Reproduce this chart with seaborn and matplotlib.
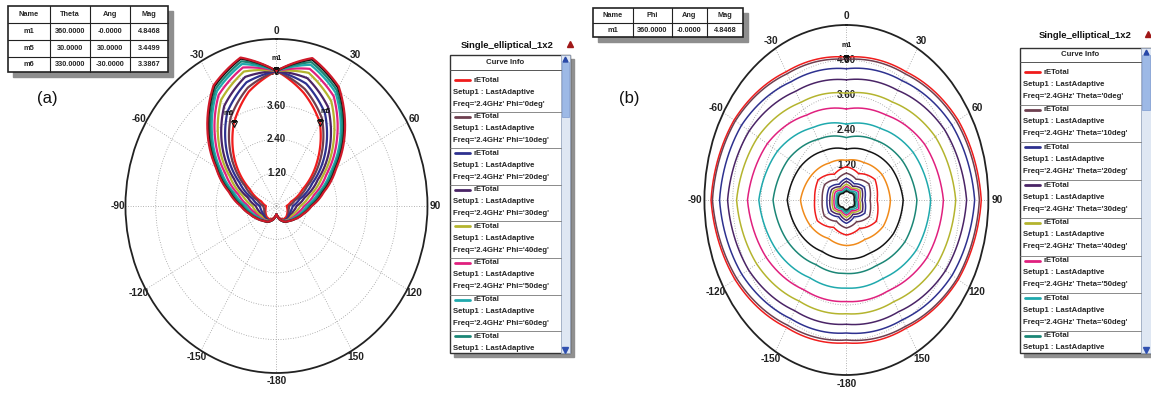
import numpy as np
import pandas as pd
import matplotlib
matplotlib.use('agg')
import matplotlib.pyplot as plt
from matplotlib.patches import Rectangle
import seaborn as sns

sns.set_theme(style="white")
plt.rcParams['font.family'] = ['Liberation Sans', 'DejaVu Sans']

# ---- panel (a): rETotal vs Theta, one trace per Phi cut (read every 15 deg)
theta_deg_a = list(range(0, 360, 15))
phi_cuts = [0, 10, 20, 30, 40, 50, 60, 70, 80, 90]
mag_phi0 = [4.85, 4.20, 3.45, 2.30, 1.20, 0.60, 0.40, 0.45, 0.50, 0.55, 0.55, 0.45, 0.30,
            0.45, 0.55, 0.55, 0.50, 0.45, 0.42, 0.62, 1.25, 2.35, 3.40, 4.25]
mag_phi10 = [4.85, 4.35, 3.62, 2.50, 1.40, 0.75, 0.50, 0.50, 0.55, 0.60, 0.60, 0.48, 0.30,
             0.48, 0.60, 0.60, 0.55, 0.50, 0.52, 0.78, 1.45, 2.55, 3.65, 4.40]
mag_phi20 = [4.85, 4.55, 3.85, 2.75, 1.65, 0.95, 0.65, 0.60, 0.60, 0.62, 0.60, 0.50, 0.30,
             0.50, 0.60, 0.62, 0.60, 0.62, 0.66, 0.98, 1.70, 2.80, 3.90, 4.60]
mag_phi30 = [4.85, 4.75, 4.10, 3.00, 1.90, 1.15, 0.80, 0.70, 0.65, 0.65, 0.62, 0.50, 0.30,
             0.50, 0.62, 0.66, 0.66, 0.72, 0.82, 1.18, 1.95, 3.05, 4.15, 4.80]
mag_phi40 = [4.85, 4.95, 4.35, 3.20, 2.10, 1.35, 0.95, 0.80, 0.70, 0.68, 0.62, 0.50, 0.30,
             0.50, 0.62, 0.68, 0.70, 0.82, 0.96, 1.38, 2.15, 3.25, 4.40, 5.00]
mag_phi50 = [4.85, 5.10, 4.55, 3.40, 2.30, 1.55, 1.10, 0.90, 0.78, 0.70, 0.64, 0.50, 0.30,
             0.50, 0.64, 0.70, 0.78, 0.90, 1.12, 1.56, 2.35, 3.45, 4.60, 5.15]
mag_phi60 = [4.85, 5.25, 4.70, 3.60, 2.50, 1.70, 1.20, 1.00, 0.82, 0.72, 0.65, 0.50, 0.30,
             0.50, 0.65, 0.72, 0.82, 1.00, 1.22, 1.72, 2.55, 3.62, 4.75, 5.28]
mag_phi70 = [4.85, 5.35, 4.80, 3.70, 2.60, 1.80, 1.30, 1.05, 0.86, 0.74, 0.66, 0.50, 0.30,
             0.50, 0.66, 0.74, 0.86, 1.05, 1.32, 1.82, 2.65, 3.72, 4.85, 5.38]
mag_phi80 = [4.85, 5.45, 4.90, 3.80, 2.70, 1.90, 1.38, 1.10, 0.90, 0.75, 0.66, 0.50, 0.30,
             0.50, 0.66, 0.75, 0.90, 1.10, 1.40, 1.92, 2.75, 3.82, 4.95, 5.48]
mag_phi90 = [4.85, 5.50, 4.95, 3.85, 2.75, 1.95, 1.40, 1.10, 0.90, 0.75, 0.65, 0.50, 0.30,
             0.50, 0.65, 0.75, 0.90, 1.10, 1.42, 1.96, 2.78, 3.88, 5.00, 5.52]
traces_a = [mag_phi0, mag_phi10, mag_phi20, mag_phi30, mag_phi40,
            mag_phi50, mag_phi60, mag_phi70, mag_phi80, mag_phi90]

# ---- panel (b): rETotal vs Phi, one trace per Theta cut (read every 30 deg)
phi_deg_b = list(range(0, 360, 30))
theta_cuts = [0, 10, 20, 30, 40, 50, 60, 70, 80, 90, 100, 110, 120, 130, 140, 150, 160, 170, 180]
mag_th0 = [4.90, 5.07, 5.46, 5.70, 5.46, 5.07, 4.90, 5.05, 5.44, 5.72, 5.48, 5.08]
mag_th10 = [4.82, 4.99, 5.38, 5.62, 5.40, 5.00, 4.80, 4.96, 5.36, 5.66, 5.42, 5.00]
mag_th20 = [4.50, 4.72, 5.15, 5.42, 5.16, 4.74, 4.56, 4.70, 5.10, 5.36, 5.12, 4.68]
mag_th30 = [4.12, 4.34, 4.80, 5.08, 4.84, 4.42, 4.26, 4.38, 4.78, 5.02, 4.74, 4.30]
mag_th40 = [3.66, 3.88, 4.34, 4.62, 4.42, 4.02, 3.90, 4.00, 4.38, 4.64, 4.32, 3.86]
mag_th50 = [3.12, 3.36, 3.82, 4.10, 3.94, 3.58, 3.48, 3.56, 3.92, 4.18, 3.86, 3.36]
mag_th60 = [2.60, 2.84, 3.26, 3.56, 3.42, 3.10, 3.02, 3.08, 3.42, 3.70, 3.36, 2.86]
mag_th70 = [2.14, 2.38, 2.72, 2.98, 2.86, 2.58, 2.52, 2.56, 2.86, 3.10, 2.82, 2.40]
mag_th80 = [1.74, 1.92, 2.20, 2.40, 2.30, 2.08, 2.02, 2.04, 2.28, 2.50, 2.26, 1.94]
mag_th90 = [1.36, 1.48, 1.74, 1.86, 1.80, 1.56, 1.56, 1.52, 1.76, 1.94, 1.70, 1.46]
mag_th100 = [1.14, 1.04, 1.40, 1.30, 1.46, 1.12, 1.20, 1.08, 1.42, 1.34, 1.38, 1.02]
mag_th110 = [0.92, 0.82, 1.10, 1.00, 1.12, 0.86, 0.96, 0.84, 1.08, 1.02, 1.06, 0.80]
mag_th120 = [0.74, 0.64, 0.88, 0.78, 0.90, 0.66, 0.80, 0.66, 0.86, 0.82, 0.84, 0.62]
mag_th130 = [0.64, 0.54, 0.76, 0.66, 0.78, 0.56, 0.70, 0.56, 0.74, 0.70, 0.72, 0.52]
mag_th140 = [0.54, 0.46, 0.66, 0.56, 0.68, 0.48, 0.60, 0.48, 0.64, 0.60, 0.62, 0.44]
mag_th150 = [0.46, 0.40, 0.58, 0.48, 0.60, 0.42, 0.52, 0.42, 0.56, 0.52, 0.54, 0.38]
mag_th160 = [0.40, 0.34, 0.50, 0.42, 0.52, 0.36, 0.46, 0.36, 0.48, 0.44, 0.46, 0.32]
mag_th170 = [0.34, 0.30, 0.42, 0.36, 0.44, 0.30, 0.40, 0.30, 0.42, 0.38, 0.40, 0.28]
mag_th180 = [0.30, 0.28, 0.36, 0.32, 0.38, 0.28, 0.34, 0.28, 0.36, 0.34, 0.34, 0.26]
traces_b = [mag_th0, mag_th10, mag_th20, mag_th30, mag_th40, mag_th50, mag_th60,
            mag_th70, mag_th80, mag_th90, mag_th100, mag_th110, mag_th120, mag_th130,
            mag_th140, mag_th150, mag_th160, mag_th170, mag_th180]

# markers and tables
markers_a = [("m1", 0, 4.8468), ("m5", 30, 3.4499), ("m6", 330, 3.3867)]
markers_b = [("m1", 0, 4.8468)]
table_a = [["Name", "Theta", "Ang", "Mag"],
           ["m1", "360.0000", "-0.0000", "4.8468"],
           ["m5", "30.0000", "30.0000", "3.4499"],
           ["m6", "330.0000", "-30.0000", "3.3867"]]
table_b = [["Name", "Phi", "Ang", "Mag"],
           ["m1", "360.0000", "-0.0000", "4.8468"]]

theta_labels = ["0", "30", "60", "90", "120", "150", "-180", "-150", "-120", "-90", "-60", "-30"]
r_ticks = [1.2, 2.4, 3.6, 4.8]
hfss_colors = ['#f01c1c', '#6e3f4f', '#2e318f', '#4a2466', '#b4b42e',
               '#e0207e', '#1fa9ad', '#1b8676', '#141414', '#f08a1a']
colors_a = hfss_colors[:9] + ['#d01a2a']
colors_b = [hfss_colors[i % 10] for i in range(len(theta_cuts))]


def to_long(knots, traces, cuts):
    rows = []
    for cut, mag in zip(cuts, traces):
        ang = np.deg2rad(knots + [360])
        for t, m in zip(ang, mag + [mag[0]]):
            rows.append((cut, t, m))
    return pd.DataFrame(rows, columns=["cut", "theta", "mag"])


def setup_polar(ax, label_pad):
    ax.set_theta_zero_location("N")
    ax.set_theta_direction(-1)
    ax.set_aspect("auto")
    ax.set_ylim(0, 6)
    ax.set_yticks(r_ticks)
    ax.set_yticklabels([])
    ax.set_xticks(np.deg2rad(np.arange(0, 360, 30)))
    ax.set_xticklabels(theta_labels, fontsize=7.3, fontweight="bold", color="#222222")
    ax.set_xticks(np.deg2rad(np.arange(0, 360, 5)), minor=True)
    ax.tick_params(axis="x", which="major", direction="in", length=7, width=1.0,
                   color="#222222", pad=label_pad)
    ax.tick_params(axis="x", which="minor", direction="in", length=4, width=0.8, color="#222222")
    ax.grid(True, which="major", color="#9a9a9a", linestyle=(0, (1, 2)), linewidth=0.6)
    ax.spines["polar"].set_linewidth(1.3)
    ax.spines["polar"].set_color("#222222")
    ax.set_xlabel("")
    ax.set_ylabel("")
    for r in r_ticks:
        ax.text(0, r, f"{r:.2f}", ha="center", va="center", fontsize=7,
                fontweight="bold", color="#222222", zorder=1.5)
    # draw traces between read points along polar arcs, like the field solver does
    for ln in ax.lines:
        ln.get_path()._interpolation_steps = 40


def add_markers(ax, marks):
    for name, ang, mag in marks:
        ax.plot(np.deg2rad(ang), mag, marker="v", ms=4, mfc="none", mec="#111111",
                mew=0.8, zorder=5)
        ax.text(np.deg2rad(ang), mag + 0.45, name, ha="center", va="center",
                fontsize=5, fontweight="bold", color="#111111", zorder=5)


def draw_table(ov, col_x, row_y, cells):
    x0, x1, y0, y1 = col_x[0], col_x[-1], row_y[0], row_y[-1]
    ov.add_patch(Rectangle((x0 + 5, y0 + 5), x1 - x0, y1 - y0, color="#8e8e8e", zorder=1))
    ov.add_patch(Rectangle((x0, y0), x1 - x0, y1 - y0, facecolor="white",
                           edgecolor="#222222", lw=1.2, zorder=2))
    for x in col_x[1:-1]:
        ov.plot([x, x], [y0, y1], color="#222222", lw=0.8, zorder=3)
    for y in row_y[1:-1]:
        ov.plot([x0, x1], [y, y], color="#222222", lw=0.8, zorder=3)
    for i, row in enumerate(cells):
        for j, txt in enumerate(row):
            ov.text((col_x[j] + col_x[j + 1]) / 2, (row_y[i] + row_y[i + 1]) / 2, txt,
                    ha="center", va="center", fontsize=5.3, fontweight="bold", zorder=4)


def curve_info(ov, box, title_xy, head_y, first_y, step, var, vals, colors, sb):
    x0, x1, y0, y1 = box
    ov.text(title_xy[0], title_xy[1], "Single_elliptical_1x2", ha="center", va="center",
            fontsize=6.8, fontweight="bold", color="#111111")
    ov.plot(title_xy[0] + 63, title_xy[1] - 1, marker="^", ms=4, color="#a01818")
    ov.add_patch(Rectangle((x0 + 4, y0 + 4), x1 - x0, y1 - y0, color="#909090", zorder=1))
    ov.add_patch(Rectangle((x0, y0), x1 - x0, y1 - y0, facecolor="white",
                           edgecolor="#333333", lw=1.0, zorder=2))
    ov.add_patch(Rectangle((sb[0], y0), sb[1] - sb[0], y1 - y0, facecolor="#dfe7f3",
                           edgecolor="#9aa8c0", lw=0.6, zorder=3))
    ov.add_patch(Rectangle((sb[0] + 1, y0 + 7), sb[1] - sb[0] - 2, 55, facecolor="#9db9e6",
                           edgecolor="#7d9ad0", lw=0.5, zorder=4))
    ov.plot((sb[0] + sb[1]) / 2, y0 + 3.5, marker="^", ms=3.5, color="#2848a8", zorder=5)
    ov.plot((sb[0] + sb[1]) / 2, y1 - 3.5, marker="v", ms=4, color="#3050b0", zorder=5)
    ov.text((x0 + sb[0]) / 2, head_y, "Curve Info", ha="center", va="center",
            fontsize=5.6, fontweight="bold", zorder=4)
    ov.plot([x0, sb[0]], [head_y + 7, head_y + 7], color="#555555", lw=0.7, zorder=4)
    for i, (v, c) in enumerate(zip(vals, colors)):
        yb = first_y + step * i
        if i > 0:
            ov.plot([x0, sb[0]], [yb - 5, yb - 5], color="#777777", lw=0.6, zorder=4)
        ov.plot([x0 + 5, x0 + 20], [yb, yb], color=c, lw=2.0, zorder=4)
        ov.text(x0 + 24, yb, "rETotal", ha="left", va="center", fontsize=5.6,
                fontweight="bold", zorder=4)
        lines = ["Setup1 : LastAdaptive", f"Freq='2.4GHz' {var}='{v}deg'"]
        for k, s in enumerate(lines):
            yy = yb + 12 * (k + 1)
            if yy < y1 - 3:
                ov.text(x0 + 3, yy, s, ha="left", va="center", fontsize=5.6,
                        fontweight="bold", zorder=4)


fig = plt.figure(figsize=(11.51, 3.93), dpi=100)
ax_a = fig.add_axes([0.109, 0.0509, 0.2624, 0.850], projection="polar")
ax_b = fig.add_axes([0.612, 0.0458, 0.2467, 0.8906], projection="polar")

df_a = to_long(theta_deg_a, traces_a, phi_cuts)
df_b = to_long(phi_deg_b, traces_b, theta_cuts)
sns.lineplot(data=df_a, x="theta", y="mag", hue="cut", hue_order=phi_cuts, palette=colors_a,
             sort=False, estimator=None, legend=False, linewidth=1.6, ax=ax_a, zorder=3)
sns.lineplot(data=df_b, x="theta", y="mag", hue="cut", hue_order=theta_cuts, palette=colors_b,
             sort=False, estimator=None, legend=False, linewidth=1.1, ax=ax_b, zorder=3)
setup_polar(ax_a, -1.5)
setup_polar(ax_b, -0.5)
add_markers(ax_a, markers_a)
add_markers(ax_b, markers_b)

ov = fig.add_axes([0, 0, 1, 1])
ov.set_xlim(0, 1151)
ov.set_ylim(393, 0)
ov.axis("off")
ov.patch.set_alpha(0)

draw_table(ov, [8, 50, 90, 130, 168], [6, 23, 40, 57, 72], table_a)
draw_table(ov, [593, 633, 672, 707, 743], [8, 23, 37], table_b)
curve_info(ov, (450, 570, 55, 353), (507, 45), 63, 80, 36.6, "Phi", phi_cuts[:8],
           colors_a[:8], (561, 570))
curve_info(ov, (1020, 1160, 48, 353), (1085, 35), 55, 72, 37.7, "Theta", theta_cuts[:8],
           colors_b[:8], (1141, 1151))
ov.text(47, 99, "(a)", ha="center", va="center", fontsize=12, color="#111111")
ov.text(629, 99, "(b)", ha="center", va="center", fontsize=12, color="#111111")

fig.savefig("out.png", dpi=100)
